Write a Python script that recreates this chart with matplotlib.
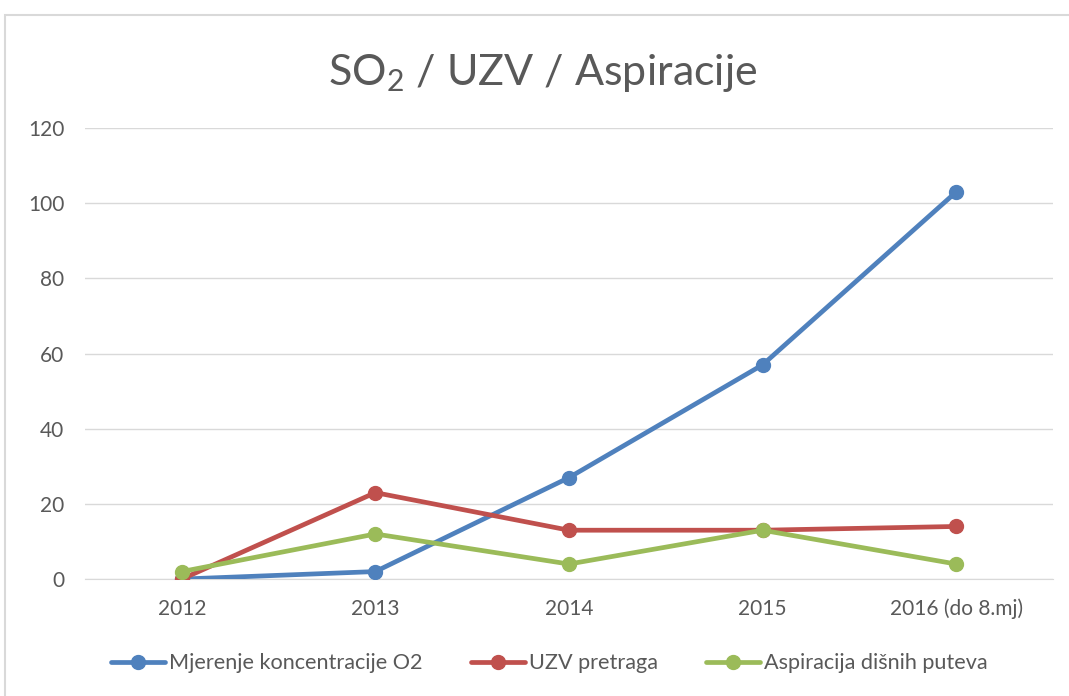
import matplotlib
matplotlib.use("Agg")
import matplotlib.pyplot as plt
from matplotlib.patches import Rectangle

categories = ["2012", "2013", "2014", "2015", "2016 (do 8.mj)"]
mjerenje = [0, 2, 27, 57, 103]
uzv = [0, 23, 13, 13, 14]
aspiracija = [2, 12, 4, 13, 4]
series_names = ["Mjerenje koncentracije O2", "UZV pretraga", "Aspiracija dišnih puteva"]
colors = ["#4f81bd", "#c0504d", "#9bbb59"]
yticks = [0, 20, 40, 60, 80, 100, 120]

plt.rcParams['font.family'] = ['Lato', 'DejaVu Sans']
plt.rcParams['mathtext.fontset'] = 'custom'
plt.rcParams['mathtext.rm'] = 'Lato'
plt.rcParams['mathtext.it'] = 'Lato'
plt.rcParams['mathtext.bf'] = 'Lato'

fig = plt.figure(figsize=(10.69, 6.96), dpi=100)
fig.patch.set_facecolor("white")
# outer chart frame
fig.patches.append(Rectangle((5/1069, -0.1), 1.2, 1 - 15/696 + 0.1, transform=fig.transFigure,
                             fill=False, edgecolor="#d9d9d9", linewidth=1.5))

ax = fig.add_axes([0.0795, 0.168, 0.9055, 0.648])
x = list(range(len(categories)))
for vals, name, c in zip([mjerenje, uzv, aspiracija], series_names, colors):
    ax.plot(x, vals, color=c, linewidth=3.4, marker="o", markersize=10, label=name,
            solid_capstyle="round", zorder=3)

ax.set_xlim(-0.5, len(categories) - 0.5)
ax.set_ylim(0, 120)
ax.set_yticks(yticks)
ax.set_xticks(x)
ax.set_xticklabels(categories)
ax.grid(axis="y", color="#d9d9d9", linewidth=1)
ax.set_axisbelow(True)
for s in ["top", "right", "left"]:
    ax.spines[s].set_visible(False)
ax.spines["bottom"].set_color("#d9d9d9")
ax.tick_params(axis="both", length=0, colors="#595959", labelsize=15)
ax.tick_params(axis="x", pad=14)
ax.tick_params(axis="y", pad=15)

fig.text(0.508, 0.895, r"SO$_{2}$ / UZV / Aspiracije", ha="center", va="center",
         fontsize=31, color="#595959")

leg = fig.legend(loc="center", bbox_to_anchor=(0.514, 0.047), ncol=3, frameon=False,
                 fontsize=15.6, handlelength=2.5, columnspacing=2.2, handletextpad=0.2,
                 labelcolor="#595959")

fig.savefig("out.png", dpi=100)
